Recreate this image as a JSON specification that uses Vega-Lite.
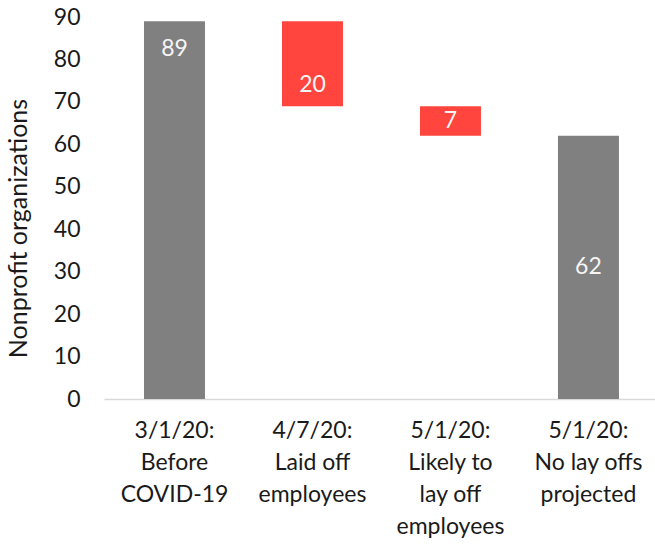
{
  "$schema": "https://vega.github.io/schema/vega-lite/v6.json",
  "autosize": "none",
  "width": 551,
  "height": 382,
  "padding": {"left": 104, "top": 17, "right": 0, "bottom": 147},
  "background": "white",
  "config": {
    "font": "Lato",
    "view": {"stroke": null}
  },
  "data": {
    "values": [
      {"category": "3/1/20:|Before|COVID-19", "start": 0, "end": 89, "value": 89, "kind": "total", "labelAt": "top"},
      {"category": "4/7/20:|Laid off|employees", "start": 69, "end": 89, "value": 20, "kind": "change", "labelAt": "base"},
      {"category": "5/1/20:|Likely to|lay off|employees", "start": 62, "end": 69, "value": 7, "kind": "change", "labelAt": "mid"},
      {"category": "5/1/20:|No lay offs|projected", "start": 0, "end": 62, "value": 62, "kind": "total", "labelAt": "mid"}
    ]
  },
  "encoding": {
    "x": {
      "field": "category",
      "type": "nominal",
      "sort": null,
      "scale": {"paddingInner": 0.558, "paddingOuter": 0.2755, "align": 0.526},
      "axis": {
        "title": null,
        "labelAngle": 0,
        "labelExpr": "split(datum.label, '|')",
        "labelFontSize": 23,
        "labelLineHeight": 32,
        "labelColor": "#1a1a1a",
        "labelPadding": 20,
        "labelBaseline": "top",
        "ticks": false,
        "domainColor": "#d9d9d9",
        "domainWidth": 1.5
      }
    }
  },
  "layer": [
    {
      "mark": {"type": "bar"},
      "encoding": {
        "y": {
          "field": "end",
          "type": "quantitative",
          "scale": {"domain": [0, 90]},
          "axis": {
            "title": "Nonprofit organizations",
            "titleFontSize": 25,
            "titleFontWeight": "normal",
            "titleColor": "#1a1a1a",
            "titlePadding": 22,
            "titleY": 211,
            "values": [0, 10, 20, 30, 40, 50, 60, 70, 80, 90],
            "labelFontSize": 23,
            "labelColor": "#1a1a1a",
            "labelPadding": 24,
            "ticks": false,
            "domain": false,
            "grid": false
          }
        },
        "y2": {"field": "start"},
        "color": {
          "field": "kind",
          "type": "nominal",
          "scale": {"domain": ["total", "change"], "range": ["#808080", "#FF453D"]},
          "legend": null
        }
      }
    },
    {
      "transform": [{"filter": "datum.labelAt == 'top'"}],
      "mark": {"type": "text", "color": "#f5f5f5", "fontSize": 23, "baseline": "middle", "dy": 28},
      "encoding": {
        "y": {"field": "end", "type": "quantitative"},
        "text": {"field": "value", "type": "quantitative"}
      }
    },
    {
      "transform": [{"filter": "datum.labelAt == 'base'"}],
      "mark": {"type": "text", "color": "#f5f5f5", "fontSize": 23, "baseline": "middle", "dy": -21},
      "encoding": {
        "y": {"field": "start", "type": "quantitative"},
        "text": {"field": "value", "type": "quantitative"}
      }
    },
    {
      "transform": [
        {"filter": "datum.labelAt == 'mid'"},
        {"calculate": "(datum.start + datum.end) / 2", "as": "mid"}
      ],
      "mark": {"type": "text", "color": "#f5f5f5", "fontSize": 23, "baseline": "middle"},
      "encoding": {
        "y": {"field": "mid", "type": "quantitative"},
        "text": {"field": "value", "type": "quantitative"}
      }
    }
  ]
}
